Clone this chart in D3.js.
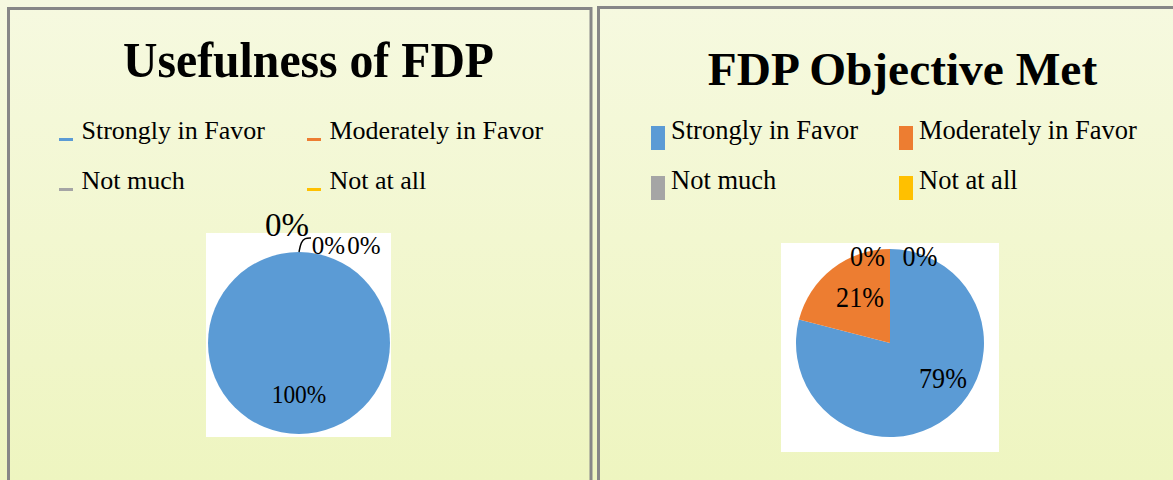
<!DOCTYPE html>
<html>
<head>
<meta charset="utf-8">
<title>FDP feedback pies</title>
<script src="https://d3js.org/d3.v7.min.js"></script>
<style>
  body { margin: 0; }
  text { font-family: "Liberation Serif", "Times New Roman", serif; fill: #000; }
</style>
</head>
<body>
<div id="viz"></div>
<script>
// data
const categories = ["Strongly in Favor", "Moderately in Favor", "Not much", "Not at all"];
const colors = ["#5b9bd5", "#ed7d31", "#a5a5a5", "#ffc000"];
const usefulness = [100, 0, 0, 0];
const objectiveMet = [79, 21, 0, 0];
const titles = ["Usefulness of FDP", "FDP Objective Met"];

const W = 1173, H = 480;

const svg = d3.select("#viz").append("svg")
    .attr("width", W).attr("height", H);

const defs = svg.append("defs");
const grad = defs.append("linearGradient")
    .attr("id", "bg").attr("x1", 0).attr("y1", 0).attr("x2", 0).attr("y2", 1);
grad.append("stop").attr("offset", "0%").attr("stop-color", "#f6f9e0");
grad.append("stop").attr("offset", "100%").attr("stop-color", "#eef5c0");

svg.append("rect").attr("width", W).attr("height", H).attr("fill", "url(#bg)");

// panel layouts (two charts side by side)
const panels = [
  {
    values: usefulness, title: titles[0],
    box: [8.5, 8.5, 582.5, 500],
    titleX: 308.5, titleY: 77, titleSize: 50, titleSx: 0.954,
    legX: [59, 307], legY: [139, 189], legSize: 26, legSx: 1, textOff: 22.5, marker: "dash",
    pieBox: [206, 233, 185, 204],
    cx: 299, cy: 343, r: 91,
    labels: [
      {dx: 0, dy: -4, size: 26, sx: 0.9},
      {dx: -12, dy: -64, size: 33, sx: 1},
      {dx: 29.5, dy: -43, size: 25, sx: 1},
      {dx: 65, dy: -43, size: 25, sx: 1}
    ],
    leader: true
  },
  {
    values: objectiveMet, title: titles[1],
    box: [598.5, 7.5, 600, 500],
    titleX: 902.5, titleY: 85, titleSize: 46, titleSx: 1.03,
    legX: [651, 899], legY: [139, 189], legSize: 26.5, legSx: 1, textOff: 20, marker: "block",
    pieBox: [781, 243, 218, 209],
    cx: 890, cy: 343, r: 94,
    labels: [
      {dx: 18.4, dy: -9.6, size: 29, sx: 0.9},
      {dx: 4.6, dy: -1.4, size: 29, sx: 0.9},
      {dx: -22.5, dy: -30.6, size: 29, sx: 0.9},
      {dx: 30, dy: -30.6, size: 29, sx: 0.9}
    ],
    leader: false
  }
];

const pie = d3.pie().sort(null).value(d => d.value);

panels.forEach(p => {
  const g = svg.append("g");

  g.append("rect")
      .attr("x", p.box[0]).attr("y", p.box[1])
      .attr("width", p.box[2]).attr("height", p.box[3])
      .attr("fill", "none").attr("stroke", "#878787").attr("stroke-width", 3);

  g.append("text")
      .attr("transform", `translate(${p.titleX},${p.titleY}) scale(${p.titleSx},1)`)
      .attr("text-anchor", "middle")
      .style("font-size", p.titleSize + "px")
      .style("font-weight", "bold")
      .text(p.title);

  // legend, 2 x 2
  categories.forEach((c, i) => {
    const x = p.legX[i % 2], y = p.legY[Math.floor(i / 2)];
    if (p.marker === "dash") {
      g.append("rect").attr("x", x).attr("y", y - 1).attr("width", 14).attr("height", 3)
          .attr("fill", colors[i]);
    } else {
      g.append("rect").attr("x", x).attr("y", y - 13).attr("width", 14).attr("height", 24)
          .attr("fill", colors[i]);
    }
    g.append("text")
        .attr("transform", `translate(${x + p.textOff},${y}) scale(${p.legSx},1)`)
        .style("font-size", p.legSize + "px")
        .text(c);
  });

  // pie plot area
  g.append("rect")
      .attr("x", p.pieBox[0]).attr("y", p.pieBox[1])
      .attr("width", p.pieBox[2]).attr("height", p.pieBox[3])
      .attr("fill", "#fff");

  const data = categories.map((c, i) => ({cat: c, value: p.values[i], color: colors[i]}));
  const arcs = pie(data);
  const arc = d3.arc().innerRadius(0).outerRadius(p.r);
  const labelArc = d3.arc().innerRadius(p.r * 0.6).outerRadius(p.r * 0.6);

  const pg = g.append("g").attr("transform", `translate(${p.cx},${p.cy})`);

  pg.selectAll("path")
    .data(arcs.filter(d => d.value > 0))
    .join("path")
      .attr("d", arc)
      .attr("fill", d => d.data.color);

  const total = d3.sum(p.values);
  pg.selectAll("text")
    .data(arcs)
    .join("text")
      .attr("transform", (d, i) => {
        const c = labelArc.centroid(d);
        const l = p.labels[i];
        return `translate(${c[0] + l.dx},${c[1] + l.dy}) scale(${l.sx},1)`;
      })
      .attr("text-anchor", "middle")
      .attr("dy", "0.35em")
      .style("font-size", (d, i) => p.labels[i].size + "px")
      .text(d => Math.round(d.value / total * 100) + "%");

  if (p.leader) {
    // leader from the 12 o'clock edge to the stacked zero labels
    const line = d3.line().curve(d3.curveBasis);
    pg.append("path")
        .attr("d", line([[0, -p.r], [2, -p.r - 10], [6, -p.r - 14], [12, -p.r - 14]]))
        .attr("fill", "none")
        .attr("stroke", "#000")
        .attr("stroke-width", 1.5);
  }
});
</script>
</body>
</html>
